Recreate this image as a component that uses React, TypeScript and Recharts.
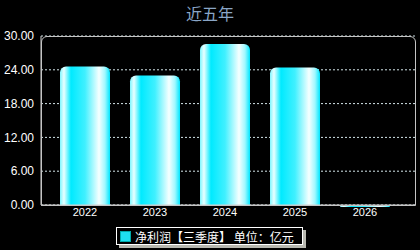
import React from 'react';
import { BarChart, Bar, XAxis, YAxis, CartesianGrid } from 'recharts';

const years = ['2022', '2023', '2024', '2025', '2026'];
const profit = [24.6, 23.0, 28.6, 24.4, -0.35];
const yTicks = [0, 6, 12, 18, 24, 30];
const seriesName = '净利润【三季度】 单位：亿元';
const title = '近五年';

const data = years.map((year, i) => ({ year, profit: profit[i] }));

const cjk = '"Noto Sans CJK SC", "Noto Sans", sans-serif';
const latin = '"Liberation Sans", Arial, sans-serif';

export default function App() {
  return (
    <div style={{ position: 'relative', width: 420, height: 250, background: '#000', overflow: 'hidden' }}>
      <style>{`body{margin:0;background:#000}.recharts-bar-rectangles{clip-path:none !important}`}</style>

      {/* title */}
      <div
        style={{
          position: 'absolute', left: 0, top: 2, width: 420, textAlign: 'center',
          color: '#8aa6c6', fontFamily: cjk, fontSize: 16, lineHeight: '22px',
        }}
      >
        {title}
      </div>

      <BarChart
        width={420}
        height={250}
        data={data}
        margin={{ top: 36, right: 5, bottom: 0, left: 0 }}
      >
        <defs>
          <linearGradient id="barFill" x1="0" y1="0" x2="1" y2="0">
            <stop offset="0%" stopColor="#7ff6ff" />
            <stop offset="8%" stopColor="#eaffff" />
            <stop offset="22%" stopColor="#00eaff" />
            <stop offset="50%" stopColor="#40f0ff" />
            <stop offset="78%" stopColor="#f6ffff" />
            <stop offset="90%" stopColor="#a0f8ff" />
            <stop offset="100%" stopColor="#00e6ff" />
          </linearGradient>
        </defs>
        <CartesianGrid vertical={false} stroke="#d4e6ea" strokeDasharray="2 2" />
        <XAxis
          dataKey="year"
          padding={{ left: 9, right: 15 }}
          axisLine={{ stroke: '#d0d0d0' }}
          tickLine={false}
          tickSize={0}
          tickMargin={3}
          tick={{ fill: '#fff', fontSize: 11, fontFamily: latin }}
          height={45}
        />
        <YAxis
          width={41}
          domain={[0, 30]}
          ticks={yTicks}
          allowDataOverflow
          interval={0}
          axisLine={{ stroke: '#d0d0d0' }}
          tickLine={false}
          tickSize={6}
          tickMargin={1}
          tickFormatter={(v: number) => v.toFixed(2)}
          tick={{ fill: '#fff', fontSize: 12, fontFamily: latin }}
        />
        <Bar
          dataKey="profit"
          name={seriesName}
          barSize={50}
          fill="url(#barFill)"
          radius={[6, 6, 0, 0]}
          isAnimationActive={false}
        />
      </BarChart>

      {/* plot frame */}
      <div
        style={{
          position: 'absolute', left: 41, top: 36, width: 375, height: 170, boxSizing: 'border-box',
          border: '1px solid #c4c4c4', borderRadius: '6px 6px 0 0', pointerEvents: 'none',
        }}
      />

      {/* legend */}
      <div
        style={{
          position: 'absolute', left: 116, top: 227, height: 18, boxSizing: 'border-box',
          border: '1px solid #fff', background: '#000', boxShadow: '3px 3px 0 #b8b8b0',
          display: 'flex', alignItems: 'center', padding: '0 8px 0 3px',
          color: '#fff', fontFamily: cjk, fontSize: 12, whiteSpace: 'nowrap',
        }}
      >
        <span style={{ display: 'inline-block', width: 9, height: 9, background: '#1ee0f0', border: '1px solid #0aa', marginRight: 4 }} />
        {seriesName}
      </div>
    </div>
  );
}
